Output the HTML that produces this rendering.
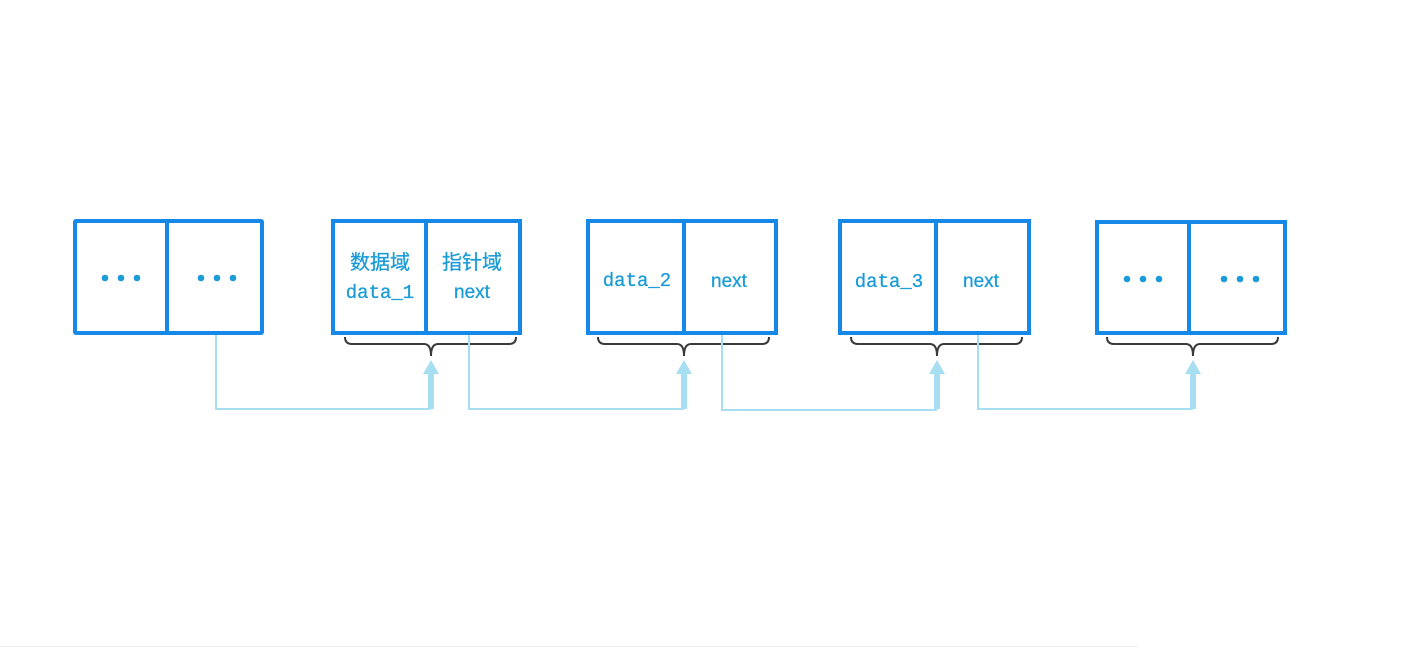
<!DOCTYPE html>
<html><head><meta charset="utf-8"><style>
body{margin:0;background:#fff;width:1424px;height:648px;overflow:hidden}
</style></head><body>
<svg width="1424" height="648" xmlns="http://www.w3.org/2000/svg" style="position:absolute;left:0;top:0">
<g fill="none" stroke="#1688e8" stroke-width="4">
<rect x="75" y="221" width="187" height="112" rx="1"/><line x1="167" y1="221" x2="167" y2="333"/>
<rect x="333" y="221" width="187" height="112"/><line x1="426" y1="221" x2="426" y2="333"/>
<rect x="588" y="221" width="188" height="112"/><line x1="684" y1="221" x2="684" y2="333"/>
<rect x="840" y="221" width="189" height="112"/><line x1="936" y1="221" x2="936" y2="333"/>
<rect x="1097" y="222" width="188" height="111"/><line x1="1189" y1="222" x2="1189" y2="333"/>
</g>
<g fill="#1a9bd7">
<circle cx="105" cy="278" r="3.3"/><circle cx="121" cy="278" r="3.3"/><circle cx="137" cy="278" r="3.3"/>
<circle cx="201" cy="278" r="3.3"/><circle cx="217" cy="278" r="3.3"/><circle cx="233" cy="278" r="3.3"/>
<circle cx="1127" cy="279" r="3.3"/><circle cx="1143" cy="279" r="3.3"/><circle cx="1159" cy="279" r="3.3"/>
<circle cx="1224" cy="279" r="3.3"/><circle cx="1240" cy="279" r="3.3"/><circle cx="1256" cy="279" r="3.3"/>
</g>
<g fill="#1a9bd7" font-family="'Liberation Mono','Noto Sans CJK SC',monospace" font-size="19" text-anchor="middle" stroke="#1a9bd7" stroke-width="0.3">
<text x="380" y="269" font-size="20" font-family="'Noto Sans CJK SC',sans-serif">数据域</text>
<text x="380" y="298">data_1</text>
<text x="472" y="269" font-size="20" font-family="'Noto Sans CJK SC',sans-serif">指针域</text>
<text x="472" y="298" font-family="'Liberation Sans',sans-serif">next</text>
<text x="637" y="286">data_2</text>
<text x="729" y="287" font-family="'Liberation Sans',sans-serif">next</text>
<text x="889" y="287">data_3</text>
<text x="981" y="287" font-family="'Liberation Sans',sans-serif">next</text>
</g>
<g fill="none" stroke="#3a3a3a" stroke-width="2">
<path d="M345 337 q0 7 7 7 H424 q7 0 7 12 q0 -12 7 -12 H509 q7 0 7 -7"/>
<path d="M598 337 q0 7 7 7 H677 q7 0 7 12 q0 -12 7 -12 H762 q7 0 7 -7"/>
<path d="M851 337 q0 7 7 7 H930 q7 0 7 12 q0 -12 7 -12 H1015 q7 0 7 -7"/>
<path d="M1107 337 q0 7 7 7 H1186 q7 0 7 12 q0 -12 7 -12 H1271 q7 0 7 -7"/>
</g>
<g fill="none" stroke="#a8def2" stroke-width="2">
<path d="M216 335 V409 H431"/>
<path d="M469 335 V409 H684"/>
<path d="M722 335 V410 H937"/>
<path d="M978 335 V409 H1193"/>
</g>
<g fill="#a8def2">
<path d="M431 360 l8 14 h-5 v35 h-6 v-35 h-5 z"/>
<path d="M684 360 l8 14 h-5 v35 h-6 v-35 h-5 z"/>
<path d="M937 360 l8 14 h-5 v35 h-6 v-35 h-5 z"/>
<path d="M1193 360 l8 14 h-5 v35 h-6 v-35 h-5 z"/>
</g>
<line x1="0" y1="646.5" x2="1138" y2="646.5" stroke="#eeeeee" stroke-width="1"/>
</svg>
</body></html>
